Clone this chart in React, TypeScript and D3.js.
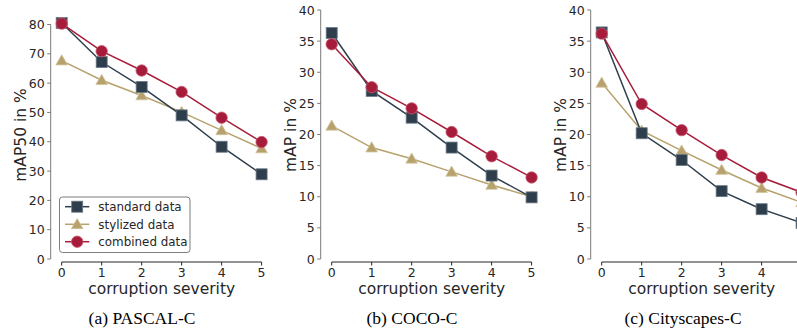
import React from "react";
import * as d3 from "d3";

const severities = [0, 1, 2, 3, 4, 5];
const seriesNames = ["standard data", "stylized data", "combined data"];
const seriesColors = ["#2e3e4c", "#b7a26d", "#a81c3b"];
const seriesEdges = ["#6b7985", "#d2c39c", "#c45b72"];
const seriesMarkers = ["square", "triangle", "circle"];

const pascalStandard = [80.5, 67.2, 58.7, 49.0, 38.3, 28.9];
const pascalStylized = [67.7, 61.0, 55.8, 50.1, 43.9, 37.7];
const pascalCombined = [80.3, 70.9, 64.3, 57.0, 48.2, 39.9];

const cocoStandard = [36.3, 27.0, 22.7, 17.9, 13.4, 9.9];
const cocoStylized = [21.4, 17.9, 16.1, 14.0, 11.9, 10.0];
const cocoCombined = [34.5, 27.6, 24.2, 20.4, 16.5, 13.1];

const cityStandard = [36.4, 20.2, 15.9, 10.9, 8.0, 5.8];
const cityStylized = [28.3, 20.6, 17.4, 14.3, 11.4, 9.1];
const cityCombined = [36.2, 24.9, 20.7, 16.7, 13.1, 10.7];

const pascalTicks = [0, 10, 20, 30, 40, 50, 60, 70, 80];
const cocoTicks = [0, 5, 10, 15, 20, 25, 30, 35, 40];
const cityTicks = [0, 5, 10, 15, 20, 25, 30, 35, 40];

const yLabels = ["mAP50 in %", "mAP in %", "mAP in %"];
const captions = ["(a) PASCAL-C", "(b) COCO-C", "(c) Cityscapes-C"];
const xLabel = "corruption severity";

const WIDTH = 797;
const HEIGHT = 334;

const panels = [
  { series: [pascalStandard, pascalStylized, pascalCombined], ticks: pascalTicks, top: 24.5, caption: 142 },
  { series: [cocoStandard, cocoStylized, cocoCombined], ticks: cocoTicks, top: 10, caption: 412 },
  { series: [cityStandard, cityStylized, cityCombined], ticks: cityTicks, top: 10, caption: 683 },
];

const drawOrder = [1, 0, 2];

function Marker({ kind, x, y, color, edge }: { kind: string; x: number; y: number; color: string; edge: string }) {
  if (kind === "square") {
    return <rect x={x - 5.5} y={y - 5.5} width={11} height={11} fill={color} stroke={edge} strokeWidth={0.8} />;
  }
  if (kind === "circle") {
    return <circle cx={x} cy={y} r={5.7} fill={color} stroke={edge} strokeWidth={0.8} />;
  }
  const r = 5.8;
  const p = `M${x},${y - r}L${x + r},${y + r * 0.75}L${x - r},${y + r * 0.75}Z`;
  return <path d={p} fill={color} stroke={edge} strokeWidth={0.8} />;
}

function Panel({ idx }: { idx: number }) {
  const ox = idx * 270;
  const p = panels[idx];
  const x = d3.scaleLinear().domain([0, 5]).range([ox + 61.7, ox + 261.6]);
  const maxTick = p.ticks[p.ticks.length - 1];
  const y = d3.scaleLinear().domain([0, maxTick]).range([259, p.top]);
  const spineX = ox + 50.7;
  const axisY = 262;
  const line = d3
    .line<number>()
    .x((_, i) => x(severities[i]))
    .y((d) => y(d));
  const midX = (x(0) + x(5)) / 2;
  return (
    <g>
      <line x1={spineX} x2={spineX} y1={y(0)} y2={y(maxTick)} stroke="#7a7a7a" strokeWidth={1} />
      {p.ticks.map((t) => (
        <g key={"yt" + t}>
          <line x1={spineX - 3.5} x2={spineX} y1={y(t)} y2={y(t)} stroke="#7a7a7a" strokeWidth={1} />
          <text x={spineX - 6} y={y(t) + 4.5} textAnchor="end" fontSize={12.5} fill="#262626">
            {t}
          </text>
        </g>
      ))}
      <line x1={x(0)} x2={x(5)} y1={axisY} y2={axisY} stroke="#262626" strokeWidth={1} />
      {severities.map((s) => (
        <g key={"xt" + s}>
          <line x1={x(s)} x2={x(s)} y1={axisY} y2={axisY + 3.5} stroke="#262626" strokeWidth={1} />
          {x(s) + 4 < WIDTH && (
            <text x={x(s)} y={277} textAnchor="middle" fontSize={12.5} fill="#262626">
              {s}
            </text>
          )}
        </g>
      ))}
      <text x={midX} y={293.5} textAnchor="middle" fontSize={15.5} fill="#262626">
        {xLabel}
      </text>
      <text
        transform={`translate(${ox + 26},${135}) rotate(-90)`}
        textAnchor="middle"
        fontSize={15.5}
        fill="#262626"
      >
        {yLabels[idx]}
      </text>
      {drawOrder.map((si) => (
        <g key={"s" + si}>
          <path d={line(p.series[si]) || ""} fill="none" stroke={seriesColors[si]} strokeWidth={1.5} />
          {p.series[si].map((v, i) => (
            <Marker
              key={i}
              kind={seriesMarkers[si]}
              x={x(severities[i])}
              y={y(v)}
              color={seriesColors[si]}
              edge={seriesEdges[si]}
            />
          ))}
        </g>
      ))}
      <text
        x={p.caption}
        y={323.5}
        textAnchor="middle"
        fontSize={17.5}
        fontFamily="'Liberation Serif', 'Times New Roman', serif"
        fill="#000"
      >
        {captions[idx]}
      </text>
    </g>
  );
}

function Legend() {
  const rows = [206.7, 224.3, 241.7];
  return (
    <g>
      <rect x={59.5} y={197} width={130.5} height={55.5} rx={3} fill="#fff" fillOpacity={0.9} stroke="#7d7d7d" strokeWidth={1} />
      {seriesNames.map((name, i) => (
        <g key={name}>
          <line x1={65} x2={89.3} y1={rows[i]} y2={rows[i]} stroke={seriesColors[i]} strokeWidth={1.5} />
          <Marker kind={seriesMarkers[i]} x={77.2} y={rows[i]} color={seriesColors[i]} edge={seriesEdges[i]} />
          <text x={98.3} y={rows[i] + 4.2} fontSize={11.9} fill="#262626">
            {name}
          </text>
        </g>
      ))}
    </g>
  );
}

export default function App() {
  return (
    <svg
      width={WIDTH}
      height={HEIGHT}
      style={{ position: "absolute", left: 0, top: 0, background: "#fff" }}
      fontFamily="'DejaVu Sans', sans-serif"
    >
      <rect x={0} y={0} width={WIDTH} height={HEIGHT} fill="#fff" />
      {[0, 1, 2].map((i) => (
        <Panel key={i} idx={i} />
      ))}
      <Legend />
    </svg>
  );
}
